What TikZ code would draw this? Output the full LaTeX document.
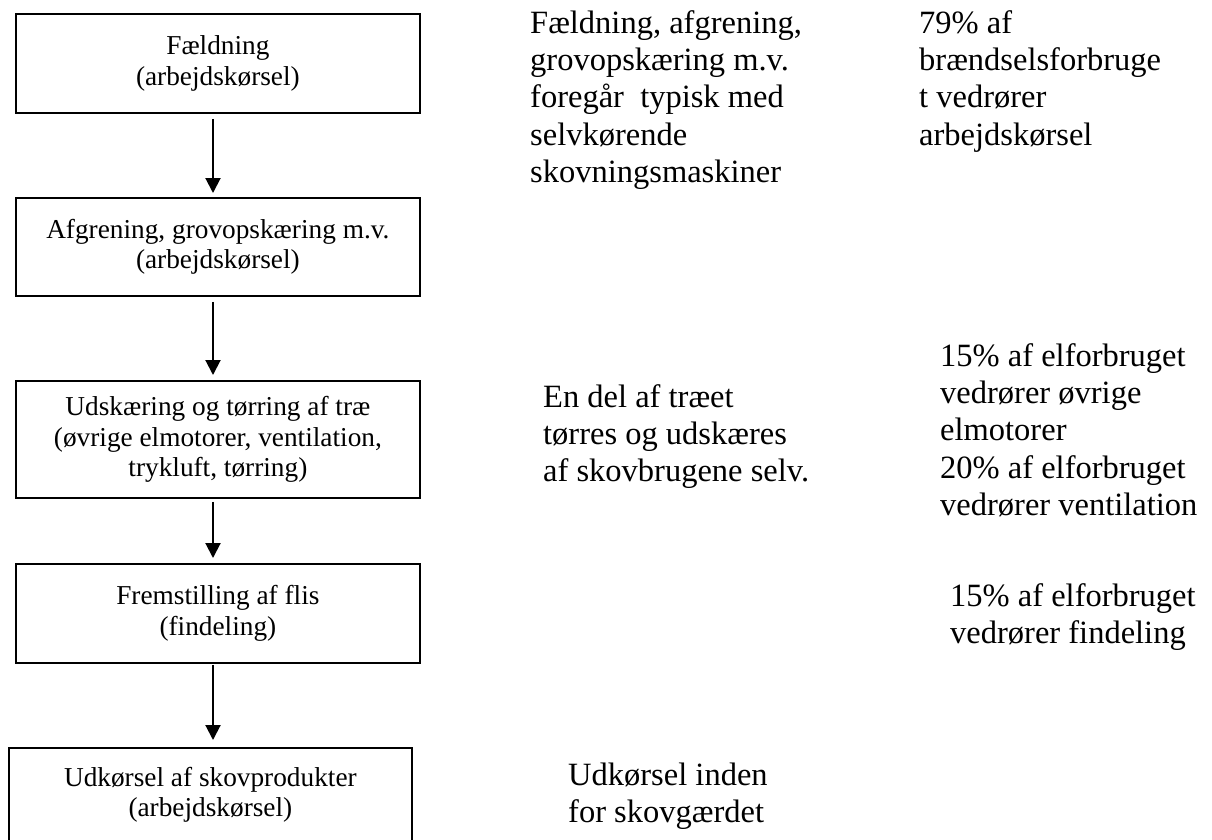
\documentclass[tikz,border=0pt]{standalone}
\usepackage{fontspec}
\setmainfont{Liberation Serif}
\usetikzlibrary{arrows.meta}

\begin{document}
\begin{tikzpicture}[
    x=1pt, y=-1pt,
    stepbox/.style={draw=black, line width=1.8pt, fill=white, anchor=north west,
      minimum width=404pt, inner sep=0pt, align=center,
      font=\fontsize{27.3}{30.5}\selectfont},
    flow/.style={draw=black, line width=2pt,
      -{Triangle[length=15pt,width=15pt]}},
    note/.style={anchor=base west, inner sep=0pt,
      font=\fontsize{32.5}{37.4}\selectfont}
  ]
  \useasboundingbox (0,0) rectangle (1212,839);

  % process chain
  \node[stepbox, minimum height=99pt]  (b1) at (15,13)  {Fældning\\(arbejdskørsel)};
  \node[stepbox, minimum height=98pt]  (b2) at (15,197) {Afgrening, grovopskæring m.v.\\(arbejdskørsel)};
  \node[stepbox, minimum height=117pt] (b3) at (15,380) {Udskæring og tørring af træ\\(øvrige elmotorer, ventilation,\\trykluft, tørring)};
  \node[stepbox, minimum height=99pt]  (b4) at (15,563) {Fremstilling af flis\\(findeling)};
  \node[stepbox, minimum width=403pt, minimum height=94pt] (b5) at (8,747) {Udkørsel af skovprodukter\\(arbejdskørsel)};

  % vertical line the arrows run along
  \coordinate (axis) at (213,0);
  \draw[flow, shorten <=5pt, shorten >=4pt] (b1.south -| axis) -- (b2.north -| axis);
  \draw[flow, shorten <=5pt, shorten >=5pt] (b2.south -| axis) -- (b3.north -| axis);
  \draw[flow, shorten <=3pt, shorten >=5pt] (b3.south -| axis) -- (b4.north -| axis);
  \draw[flow, shorten <=1pt, shorten >=7pt] (b4.south -| axis) -- (b5.north -| axis);

  % explanatory notes
  \node[note] (n1) at (530,33)  {\parbox[t]{300pt}{\raggedright Fældning, afgrening,\\grovopskæring m.v.\\foregår\ \ typisk med\\selvkørende\\skovningsmaskiner}};
  \node[note] (n2) at (919,33)  {\parbox[t]{290pt}{\raggedright 79\% af\\brændselsforbruge\\t vedrører\\arbejdskørsel}};
  \node[note] (n3) at (543,407) {\parbox[t]{300pt}{\raggedright En del af træet\\tørres og udskæres\\af skovbrugene selv.}};
  \node[note] (n4) at (940,366) {\parbox[t]{270pt}{\raggedright 15\% af elforbruget\\vedrører øvrige\\elmotorer\\20\% af elforbruget\\vedrører ventilation}};
  \node[note] (n5) at (950,606) {\parbox[t]{260pt}{\raggedright 15\% af elforbruget\\vedrører findeling}};
  \node[note] (n6) at (568,785) {\parbox[t]{300pt}{\raggedright Udkørsel inden\\for skovgærdet}};
\end{tikzpicture}
\end{document}
